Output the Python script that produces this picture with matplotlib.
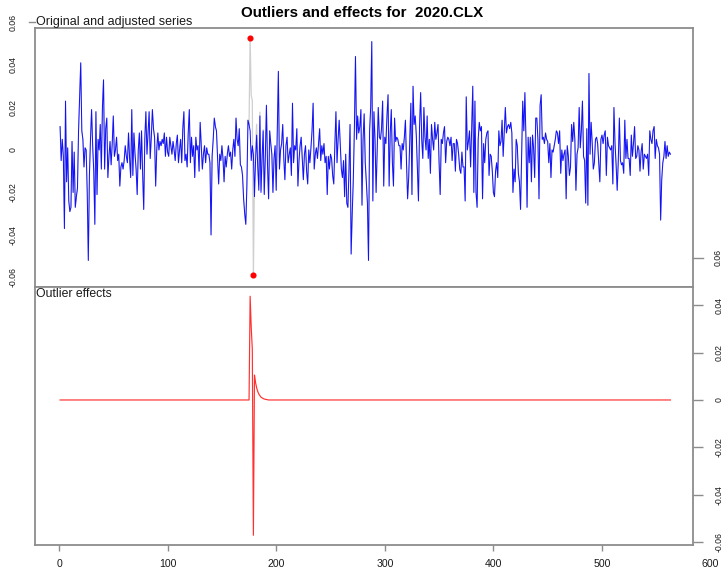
import numpy as np
import matplotlib
matplotlib.use("Agg")
import matplotlib.pyplot as plt

plt.rcParams['font.family'] = ['Liberation Sans', 'DejaVu Sans']

# ---------------- data (values in 1/1000) ----------------
adjusted_mils = [
    11, -5, 5, -3, -37, 23, -15, 1, -24, -29,
    -27, 4, -20, -1, -27, -22, -18, 9, 25, 41,
    9, 5, -8, 1, 0, -20, -52, -12, 5, 19,
    2, -10, -35, 18, -21, 5, 0, 12, -9, 20,
    33, -9, 10, 15, -13, -3, 4, -7, 3, 16,
    -3, 0, 6, -5, -2, -17, -8, -6, -9, -5,
    2, -3, -6, 8, -4, -13, 19, -12, 8, -2,
    -9, -21, 0, 8, -9, 9, -11, -28, 5, 18,
    -2, 8, 18, -4, 6, 19, 10, 6, -17, 0,
    8, 0, 4, 2, 5, 3, 8, -3, 6, -1,
    -3, 6, 2, -2, 4, 0, -5, 3, 7, -6,
    0, 5, -6, 10, 18, -5, -2, -8, 8, 19,
    -6, 6, -3, 2, -13, 6, 0, 2, -10, 13,
    2, -9, -2, 2, -6, 1, -2, -2, -6, -40,
    -3, 5, 15, 11, 9, -3, -16, -2, -5, 2,
    -4, -15, -3, -8, -2, 2, -3, -1, -9, 0,
    5, -3, 15, 5, 2, 10, -7, -8, -12, -23,
    -30, -35, -17, 14, 12, 9, -5, 2, -2, -22,
    -5, 7, -8, -19, 16, -20, -4, 9, -21, -3,
    21, -7, -23, 9, 3, -2, -20, -4, 2, -19,
    10, 37, -9, 0, 3, 12, -4, -14, 2, 6,
    -6, -2, 1, -12, 22, -6, 2, 0, 10, -17,
    -5, 2, 6, -4, -14, -2, 2, -10, -16, 0,
    -6, 1, 9, 22, -9, -2, 1, -4, 3, 10,
    -5, 2, -2, 3, -6, -3, -21, -3, -9, -2,
    -4, -12, -16, 2, 18, -6, 5, 14, 2, -9,
    -13, -5, -22, -2, -25, -27, -10, 12, -49, -30,
    -14, 10, 44, 5, 16, 8, 11, 19, -26, 5,
    17, -6, -15, -25, -52, 9, 20, 51, -24, 18,
    5, -20, 0, 20, 6, 5, 10, 23, -17, 6,
    3, 16, 26, -17, 8, 19, -6, -17, 15, 4,
    6, 5, 2, 2, -9, 3, 0, 6, 14, -6,
    -23, -13, 5, 22, -21, 30, 12, 16, 7, -9,
    -24, 11, 27, 5, -4, 20, 6, 0, 16, -4,
    5, -11, 12, 5, 0, 13, 5, 8, 12, -6,
    -21, 5, 3, 8, 11, -6, 4, 6, 5, 2,
    6, -5, 3, 3, -10, 5, 3, -2, -9, -11,
    -1, -8, -8, -24, 25, 0, 4, 9, -8, 10,
    30, -20, 23, -20, -27, 5, 13, 9, 11, -23,
    3, -6, 5, 8, 9, -12, -2, -3, -10, -20,
    -22, -10, -6, -13, 9, 2, 4, 14, -3, 8,
    20, 8, 11, 12, 10, 13, 8, -20, -9, -15,
    5, 2, -11, -15, -28, -3, 23, 9, 27, 5,
    -27, 6, -6, 6, -15, 7, 1, -13, 15, 15,
    5, -23, 21, 26, 5, 6, 3, 8, 5, 4,
    -6, 3, -13, 0, -1, 2, 5, 9, 8, 3,
    9, -11, 0, -5, -2, 0, -23, 2, -3, -12,
    -8, 12, 4, 13, 5, -19, -2, 1, 20, 1,
    9, 23, -3, -5, -25, 10, -26, 36, -2, 13,
    3, -9, -6, 5, 6, 3, -6, -15, 5, 7,
    3, 7, 9, -12, 6, 2, 1, 0, 2, -16,
    20, 3, -7, -19, -5, 15, -5, -7, -6, -11,
    14, -4, 5, -4, -4, -12, 7, -3, 3, 11,
    -4, -3, 2, 0, -10, -1, 3, -9, -2, -3,
    -4, -2, -12, 9, 5, 3, 9, 11, -4, 5,
    2, 1, -2, -33, -14, -6, -3, 4, -4, 2,
    -3, -1, -2,
]
outlier_index = [176, 179]
effect_start = 176
effect_mils = [43.7, 30.6, 21.4, -57.0, 10.5, 7.3, 5.1, 3.6, 2.5, 1.8,
               1.2, 0.9, 0.6, 0.4, 0.3, 0.2, 0.1]

title = "Outliers and effects for  2020.CLX"
label_top = "Original and adjusted series"
label_bottom = "Outlier effects"
x_ticks = [0, 100, 200, 300, 400, 500, 600]
y_ticks = [-0.06, -0.04, -0.02, 0.0, 0.02, 0.04, 0.06]
y_tick_labels = ["-0.06", "-0.04", "-0.02", "0", "0.02", "0.04", "0.06"]

# ---------------- derived series ----------------
n = len(adjusted_mils)
t = np.arange(1, n + 1)
adjusted = np.array(adjusted_mils, dtype=float) / 1000.0
effects = np.zeros(n)
effects[effect_start - 1:effect_start - 1 + len(effect_mils)] = np.array(effect_mils) / 1000.0
original = adjusted + effects
oi = np.array(outlier_index)

# ---------------- layout ----------------
W, H = 725, 568
fig = plt.figure(figsize=(W / 100, H / 100), dpi=100)


def rect(l, tp, r, b):
    return [l / W, 1 - b / H, (r - l) / W, (b - tp) / H]


ax1 = fig.add_axes(rect(35, 28, 693, 287))
ax2 = fig.add_axes(rect(35, 287, 693, 545))

XL = (-22.1, 583.8)
spine_c = '#8c8c8c'
txt_c = '#1a1a1a'
tick_fs = 6.3

for ax in (ax1, ax2):
    ax.set_xlim(*XL)
    for s in ax.spines.values():
        s.set_color(spine_c)
        s.set_linewidth(1.3)

# ---- top panel ----
ax1.plot(t, original, color='#cfcfcf', lw=0.9, zorder=2)
ax1.plot(t, adjusted, color='#1010ff', lw=0.7, zorder=3)
ax1.plot(oi, original[oi - 1], 'o', color='#ff0000', ms=3.4, zorder=4)
ax1.set_ylim(-0.0645, 0.0574)
ax1.set_xticks([])
in1 = [(v, s) for v, s in zip(y_ticks, y_tick_labels) if -0.0645 <= v <= 0.0574]
ax1.set_yticks([v for v, _ in in1])
ax1.set_yticklabels([s for _, s in in1])
ax1.tick_params(axis='y', length=0, pad=15.8, labelsize=tick_fs, labelcolor=txt_c)
for lab in ax1.get_yticklabels():
    lab.set_rotation(90)
    lab.set_ha('center')
    lab.set_va('center')
tr1 = ax1.get_yaxis_transform()
for v, s in zip(y_ticks, y_tick_labels):
    if v > 0.0574:
        ax1.text(-22 / 658, v, s, transform=tr1, rotation=90, ha='center', va='center',
                 fontsize=tick_fs, color=txt_c)
        ax1.plot([-6 / 658, 0], [v, v], transform=tr1, clip_on=False, color=spine_c, lw=1.0)
ax1.text(1 / 658, 0.0574, label_top, transform=tr1, ha='left', va='bottom',
         fontsize=9.0, color=txt_c)
fig.text(0.5, 1 - 13 / H, title, ha='center', va='center', fontsize=10.9,
         fontweight='bold', color='black')

# ---- bottom panel ----
ax2.plot(t, effects, color='#ff3030', lw=0.85)
ax2.set_ylim(-0.0611, 0.0476)
in2 = [(v, s) for v, s in zip(y_ticks, y_tick_labels) if -0.0611 <= v <= 0.0476]
ax2.yaxis.tick_right()
ax2.set_yticks([v for v, _ in in2])
ax2.set_yticklabels([s for _, s in in2])
ax2.tick_params(axis='y', length=7.2, width=1.0, color=spine_c, pad=11.5,
                labelsize=tick_fs, labelcolor=txt_c)
for lab in ax2.get_yticklabels():
    lab.set_rotation(90)
    lab.set_ha('center')
    lab.set_va('center')
tr2 = ax2.get_yaxis_transform()
for v, s in zip(y_ticks, y_tick_labels):
    if v > 0.0476:
        ax2.text(1 + 25 / 658, v, s, transform=tr2, rotation=90, ha='center', va='center',
                 fontsize=tick_fs, color=txt_c, clip_on=False)
        ax2.plot([1, 1 + 10 / 658], [v, v], transform=tr2, clip_on=False, color=spine_c, lw=1.0)

inx = [v for v in x_ticks if XL[0] <= v <= XL[1]]
ax2.set_xticks(inx)
ax2.set_xticklabels([str(v) for v in inx])
ax2.tick_params(axis='x', length=4.3, width=1.0, color=spine_c, pad=5.5,
                labelsize=7.6, labelcolor=txt_c)
trx = ax2.get_xaxis_transform()
for v in x_ticks:
    if v > XL[1]:
        ax2.text(v, -(14 / 258), str(v), transform=trx, ha='center', va='top',
                 fontsize=7.6, color=txt_c, clip_on=False)
ax2.text(1 / 658, 0.997, label_bottom, transform=ax2.transAxes, ha='left', va='top',
         fontsize=8.8, color=txt_c)

fig.savefig("out.png", dpi=100)
